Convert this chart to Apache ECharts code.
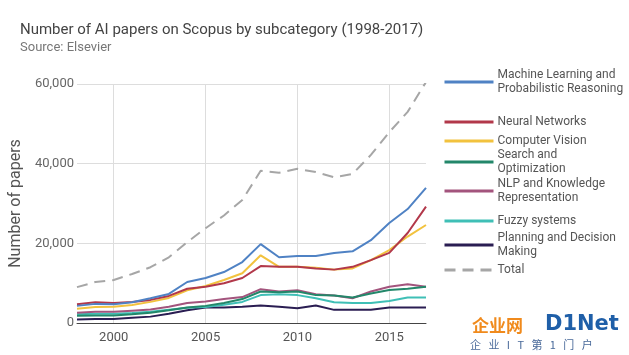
<!DOCTYPE html>
<html><head><meta charset="utf-8">
<script src="https://cdn.jsdelivr.net/npm/echarts@6/dist/echarts.min.js"></script>
<style>html,body{margin:0;padding:0;background:#fff}#c{width:629px;height:355px}</style>
</head><body><div id="c"></div>
<script>
const years = [1998,1999,2000,2001,2002,2003,2004,2005,2006,2007,2008,2009,2010,2011,2012,2013,2014,2015,2016,2017];
const yTicks = [0, 20000, 40000, 60000];
const mlData = [4300,4800,4700,5200,6200,7300,10300,11300,12800,15300,19800,16500,16800,16800,17600,18000,20800,25100,28600,33900];
const nnData = [4700,5200,5000,5300,5800,6800,8600,9100,10000,11300,14300,14100,14100,13700,13400,14100,15800,17600,22600,29200];
const cvData = [3600,4000,4100,4500,5300,6300,8200,9300,10800,12500,17000,14100,14100,13900,13400,13700,15800,18300,21700,24600];
const searchData = [1800,1900,1900,2200,2600,3200,3900,4300,5000,6000,7900,7700,7900,7000,6900,6400,7400,8300,8600,9100];
const nlpData = [2600,2800,2800,3100,3400,4100,5000,5400,6000,6500,8500,7900,8200,7200,6900,6200,7900,9100,9700,9100];
const fuzzyData = [2200,2300,2300,2500,2800,3300,3800,4000,4600,5300,7000,7200,7000,6200,5200,5000,5000,5500,6400,6400];
const planningData = [900,1000,1000,1300,1600,2300,3200,3900,3900,4100,4400,4100,3700,4400,3300,3300,3300,3900,3900,3900];
const totalData = [9000,10300,10800,12300,14000,16500,20300,23800,27000,30900,38200,37700,38700,37900,36600,37400,42200,47900,53000,60500];

const seriesNames = ['Machine Learning and Probabilistic Reasoning','Neural Networks','Computer Vision','Search and Optimization','NLP and Knowledge Representation','Fuzzy systems','Planning and Decision Making','Total'];
const legendLabels = ['Machine Learning and\nProbabilistic Reasoning','Neural Networks','Computer Vision','Search and\nOptimization','NLP and Knowledge\nRepresentation','Fuzzy systems','Planning and Decision\nMaking','Total'];
const seriesData = [mlData, nnData, cvData, searchData, nlpData, fuzzyData, planningData, totalData];
const colors = ['#4f82c4','#b2384a','#f2c23e','#23876a','#a3547d','#3fbfb6','#2a1d52','#a6a6a6'];
const legendCenters = [82,122,141,162,191,221,245,270];
const legendLines = [2,1,1,2,2,1,2,1];

const chart = echarts.init(document.getElementById('c'), null, {renderer:'canvas'});
const FONT = 'Roboto';
const legends = seriesNames.map((n,i)=>({
  data:[n], left:443, top: legendCenters[i] - (legendLines[i]===2 ? 14 : 7),
  itemWidth:49, itemHeight:14, itemGap:0, padding:0,
  formatter: () => legendLabels[i],
  itemStyle:{opacity:0},
  lineStyle:{width:3},
  textStyle:{color:'#555', fontSize:12, fontFamily:FONT, lineHeight:14, padding:[0,0,0,-1]},
  selectedMode:false
}));
const series = seriesNames.map((n,i)=>({
  name:n, type:'line', data:seriesData[i], symbol:'none', showSymbol:false,
  z: i===7 ? 1 : 10-i,
  lineStyle:{color:colors[i], width: 2, type: i===7 ? [11,7] : 'solid'},
  itemStyle:{color:colors[i]}
}));
chart.setOption({
  animation:false,
  textStyle:{fontFamily:FONT},
  title:{text:'Number of AI papers on Scopus by subcategory (1998-2017)', subtext:'Source: Elsevier',
    left:15, top:18, itemGap:3,
    textStyle:{fontSize:15, fontWeight:'normal', color:'#444', fontFamily:FONT},
    subtextStyle:{fontSize:13, color:'#777', fontFamily:FONT}},
  legend: legends,
  grid:{left:74, right:203, top:84, bottom:32, containLabel:false},
  xAxis:{type:'category', data:years.map(String), boundaryGap:false,
    axisLine:{lineStyle:{color:'#444', width:1}},
    axisTick:{show:false},
    axisLabel:{interval:(i,v)=>(+v)%5===0, color:'#555', fontSize:13, margin:8, fontFamily:FONT},
    splitLine:{show:true, interval:(i,v)=>(+v)%5===0, lineStyle:{color:'#ddd', width:1}}},
  yAxis:{type:'value', min:yTicks[0], max:yTicks[yTicks.length-1], interval:20000,
    name:'Number of papers', nameLocation:'middle', nameGap:50, nameRotate:90,
    nameTextStyle:{fontSize:16, color:'#555', fontFamily:FONT},
    axisLine:{show:false}, axisTick:{show:false},
    axisLabel:{color:'#666', fontSize:13, margin:3, fontFamily:FONT, formatter:v=>v.toLocaleString('en-US')},
    splitLine:{lineStyle:{color:'#ddd', width:1}}},
  series: series,
  graphic:[
    {type:'text', left:472, top:317, style:{text:'企业网', fill:'#f08a1c', font:'bold 17px "Noto Sans CJK SC"'}},
    {type:'text', left:545, top:314, style:{text:'D1Net', fill:'#1f5fa8', font:'bold 21px "DejaVu Sans"'}},
    {type:'text', left:470, top:339, style:{text:'企   业   I   T   第   1   门   户', fill:'#4a6a9a', font:'11px "Noto Sans CJK SC"'}}
  ]
});
</script></body></html>
